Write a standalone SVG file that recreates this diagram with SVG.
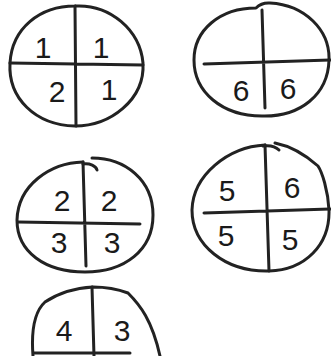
<svg xmlns="http://www.w3.org/2000/svg" width="331" height="356" viewBox="0 0 331 356">
<style>
.s{fill:none;stroke:#222;stroke-width:3;stroke-linecap:round;stroke-linejoin:round}
.t{font-family:"Liberation Sans",sans-serif;font-size:30px;fill:#1a1a1a;text-anchor:middle}
</style>
<rect width="331" height="356" fill="#fff"/>
<g id="circle1">
<path class="s" d="M75,6 C110,4 140,30 143,63 C145,100 110,126 75,126 C35,125 8,98 10,63 C12,28 40,6 75,6 Z"/>
<path class="s" d="M75,6 L76,126 M10,63 L143,65"/>
<text class="t" x="43" y="58">1</text>
<text class="t" x="101" y="58">1</text>
<text class="t" x="57" y="102">2</text>
<text class="t" x="109" y="100">1</text>
</g>
<g id="circle2">
<path class="s" d="M256,8 C262,2 268,3 270,3 C305,5 330,30 329,60 C328,95 300,117 262,116 C222,116 194,92 194,60 C194,30 220,8 256,8 Z"/>
<path class="s" d="M262,10 L265,108 M204,64 L330,60"/>
<text class="t" x="241" y="101">6</text>
<text class="t" x="288" y="99">6</text>
</g>
<g id="circle3">
<path class="s" d="M83,162 C50,163 18,185 17,220 C17,252 45,272 85,272 C125,272 153,250 153,215 C153,180 125,158 92,158"/>
<path class="s" d="M83,162 L86,266 M18,222 L140,224"/>
<path class="s" d="M83,164 C90,163 96,166 97,170"/>
<text class="t" x="62" y="211">2</text>
<text class="t" x="109" y="211">2</text>
<text class="t" x="59" y="253">3</text>
<text class="t" x="112" y="253">3</text>
</g>
<g id="circle4">
<path class="s" d="M265,145 C228,147 193,175 192,210 C192,245 225,272 269,271 C305,270 330,245 329,210 C328,190 322,172 318,166 C300,150 285,145 275,143"/>
<path class="s" d="M263,146 C270,145 276,147 279,150"/>
<path class="s" d="M265,145 L269,271 M204,213 L330,209"/>
<text class="t" x="227" y="201">5</text>
<text class="t" x="292" y="198">6</text>
<text class="t" x="226" y="246">5</text>
<text class="t" x="290" y="250">5</text>
</g>
<g id="circle5">
<path class="s" d="M33,356 C31,330 34,312 45,302 C60,292 75,288 93,287 C110,287 120,290 128,293 C140,305 152,320 160,356"/>
<path class="s" d="M92,287 L94,356 M34,353 L130,353"/>
<text class="t" x="64" y="341">4</text>
<text class="t" x="122" y="341">3</text>
</g>
</svg>
